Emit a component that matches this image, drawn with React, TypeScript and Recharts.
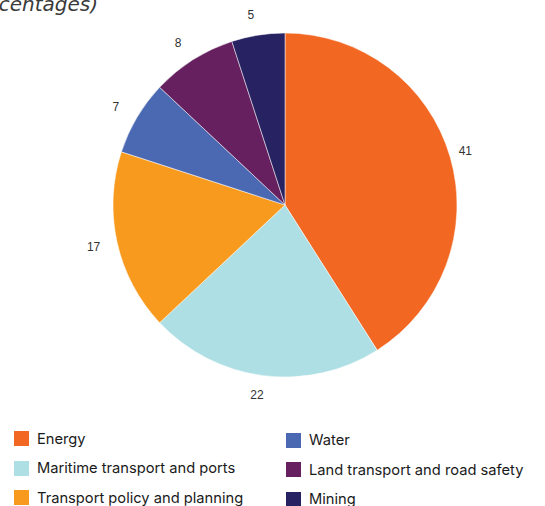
import React from "react";
import { PieChart, Pie, Cell, Legend } from "recharts";

const categories = [
  "Energy",
  "Maritime transport and ports",
  "Transport policy and planning",
  "Water",
  "Land transport and road safety",
  "Mining",
];
const values = [41, 22, 17, 7, 8, 5];
const colors = ["#F26722", "#AEDFE4", "#F89A1E", "#4B69B2", "#66205F", "#272262"];
const titleText = "(percentages)";

const data = categories.map((name, i) => ({ name, value: values[i] }));

const RAD = Math.PI / 180;

const renderLabel = (props: any) => {
  const { cx, cy, midAngle, outerRadius, value } = props;
  const r = outerRadius + 20;
  const x = cx + r * Math.cos(-midAngle * RAD) - 4;
  const y = cy + r * Math.sin(-midAngle * RAD);
  return (
    <text
      x={x}
      y={y}
      textAnchor="middle"
      dominantBaseline="central"
      fill="#333333"
      stroke="none"
      style={{ fill: "#333333" }}
      fontSize={12}
      fontFamily="Liberation Sans, Arial, sans-serif"
    >
      {value}
    </text>
  );
};

const LegendContent = (props: any) => {
  const payload = props.payload || [];
  const items = categories.map((name, i) => {
    const p = payload.find((q: any) => q.value === name);
    return { name, color: p ? p.color : colors[i] };
  });
  const col1 = items.slice(0, 3);
  const col2 = items.slice(3);
  const renderCol = (list: any[], left: number, top: number) => (
    <div style={{ position: "absolute", left, top }}>
      {list.map((it) => (
        <div
          key={it.name}
          style={{ display: "flex", alignItems: "center", height: 29.5, whiteSpace: "nowrap" }}
        >
          <span style={{ display: "inline-block", width: 15, height: 15, background: it.color, marginRight: 8, flexShrink: 0 }} />
          <span style={{ fontSize: 14.7, color: "#1a1a1a", fontFamily: "Inter, Liberation Sans, Arial, sans-serif" }}>
            {it.name}
          </span>
        </div>
      ))}
    </div>
  );
  return (
    <div style={{ position: "relative", width: 545, height: 90 }}>
      {renderCol(col1, 14, 0)}
      {renderCol(col2, 286, 1.5)}
    </div>
  );
};

export default function App() {
  return (
    <div style={{ position: "absolute", left: 0, top: 0, width: 545, height: 506, overflow: "hidden", background: "#fff" }}>
      <div
        style={{
          position: "absolute",
          left: -200,
          top: -10,
          width: 298,
          textAlign: "right",
          fontStyle: "italic",
          fontSize: 20,
          lineHeight: "28px",
          color: "#3a3a3a",
          fontFamily: "DejaVu Sans, sans-serif",
          whiteSpace: "nowrap",
        }}
      >
        {titleText}
      </div>
      <PieChart
        width={545}
        height={506}
        margin={{ top: 0, right: 0, bottom: 0, left: 0 }}
        style={{ position: "absolute", left: 0, top: 0 }}
      >
        <Pie
          data={data}
          dataKey="value"
          nameKey="name"
          cx={285}
          cy={205}
          outerRadius={172}
          startAngle={90}
          endAngle={-270}
          stroke="#ffffff"
          strokeWidth={0.5}
          label={renderLabel}
          labelLine={false}
          isAnimationActive={false}
        >
          {data.map((d, i) => (
            <Cell key={d.name} fill={colors[i]} />
          ))}
        </Pie>
        <Legend
          content={<LegendContent />}
          wrapperStyle={{ position: "absolute", left: 0, top: 424, width: 545 }}
        />
      </PieChart>
    </div>
  );
}
